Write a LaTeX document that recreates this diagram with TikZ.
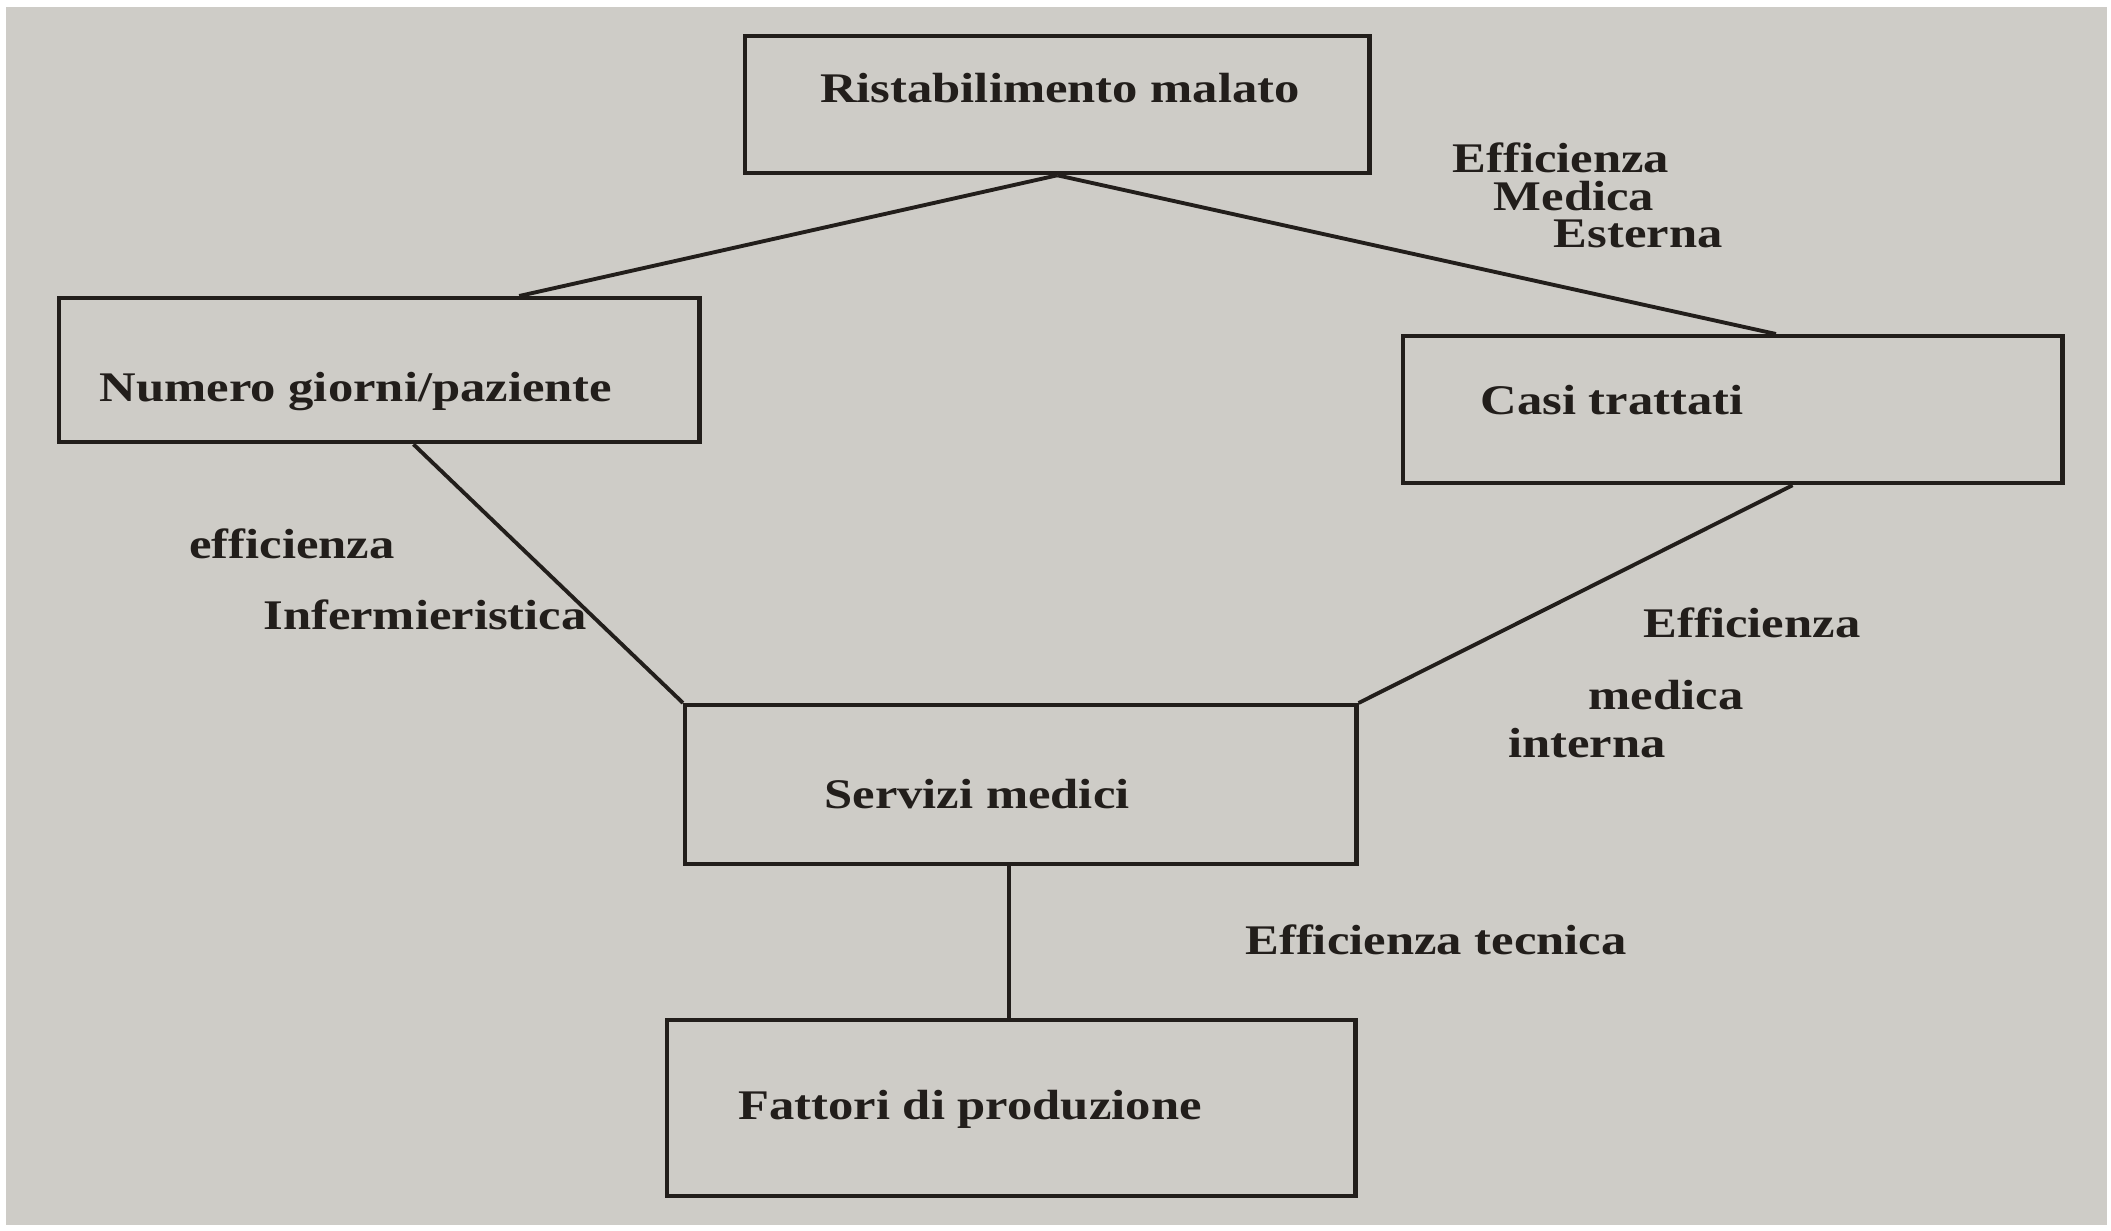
\documentclass[tikz,border=0pt]{standalone}
\usepackage{fontspec}
\setmainfont{Liberation Serif}[FakeStretch=1.2]
\usetikzlibrary{calc}
\definecolor{paper}{RGB}{206,204,199}
\definecolor{ink}{RGB}{34,30,27}
\begin{document}
\begin{tikzpicture}[x=0.01cm,y=-0.01cm,
  box/.style={draw=ink, line width=1.2pt, rectangle, inner sep=0pt},
  lbl/.style={text=ink, font=\fontsize{12}{14}\selectfont\bfseries, inner sep=0pt},
  conn/.style={draw=ink, line width=1.1pt}]
\useasboundingbox (0,0) rectangle (2111,1231);
\fill[white] (0,0) rectangle (2111,1231);
\fill[paper] (6,7) rectangle (2107,1225);
% boxes
\node[box, minimum width=6.24cm, minimum height=1.37cm, anchor=north west] (ris) at (743,34) {};
\node[box, minimum width=6.40cm, minimum height=1.44cm, anchor=north west] (num) at (57,296) {};
\node[box, minimum width=6.59cm, minimum height=1.47cm, anchor=north west] (cas) at (1401,334) {};
\node[box, minimum width=6.71cm, minimum height=1.59cm, anchor=north west] (srv) at (683,703) {};
\node[box, minimum width=6.88cm, minimum height=1.76cm, anchor=north west] (fat) at (665,1018) {};
% box texts
\node[lbl] (tris) at (1060,88) {Ristabilimento malato};
\node[lbl] (tnum) at (356,392) {Numero giorni/paziente};
\node[lbl] (tcas) at (1612,400) {Casi trattati};
\node[lbl] (tsrv) at (977,794) {Servizi medici};
\node[lbl] (tfat) at (970,1109) {Fattori di produzione};
% connectors
\draw[conn] (ris.south) -- ($(num.north west)!0.717!(num.north east)$);
\draw[conn] (ris.south) -- ($(cas.north west)!0.565!(cas.north east)$);
\draw[conn] ($(num.south west)!0.553!(num.south east)$) -- (srv.north west);
\draw[conn] ($(cas.south west)!0.59!(cas.south east)$) -- (srv.north east);
\coordinate (sb) at ($(srv.south west)!0.483!(srv.south east)$);
\draw[conn] (sb) -- (sb |- fat.north);
% edge labels
\node[lbl, align=left, anchor=base west,
      font=\fontsize{12}{10.8}\selectfont\bfseries] (l1) at (1452,248)
  {Efficienza\\\hspace*{0.41cm}Medica\\\hspace*{1.01cm}Esterna};
\node[lbl] (l4) at (292,544) {efficienza};
\node[lbl] (l5) at (425,615) {Infermieristica};
\node[lbl] (l6) at (1752,623) {Efficienza};
\node[lbl] (l7) at (1666,695) {medica};
\node[lbl] (l8) at (1587,743) {interna};
\node[lbl] (l9) at (1436,940) {Efficienza tecnica};
\end{tikzpicture}
\end{document}
